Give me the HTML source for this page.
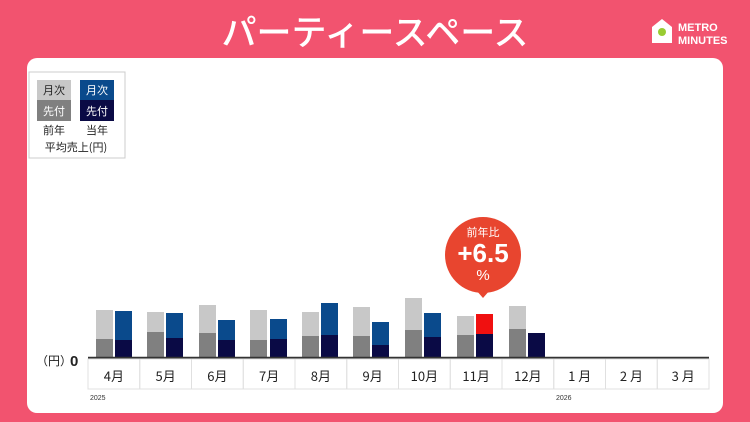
<!DOCTYPE html>
<html><head><meta charset="utf-8"><style>
body{margin:0;width:750px;height:422px;background:#f2536f;overflow:hidden;font-family:"Liberation Sans","Noto Sans CJK JP",sans-serif;}
</style></head><body>
<svg width="750" height="422" xmlns="http://www.w3.org/2000/svg" style="position:absolute;left:0;top:0">
<text x="375" y="45" text-anchor="middle" fill="#fff" font-size="35" font-weight="500" font-family="Noto Sans CJK JP,sans-serif">パーティースペース</text>
<g transform="translate(652,19)"><path d="M0 8 L10 0 L20 8 L20 24 L0 24Z" fill="#fff"/><circle cx="10" cy="13" r="4" fill="#9c3"/></g>
<text x="678" y="31" fill="#fff" font-size="11" font-weight="bold">METRO</text>
<text x="678" y="44" fill="#fff" font-size="11" font-weight="bold">MINUTES</text>
<rect x="27" y="58" width="696" height="355" rx="10" fill="#fff"/>
<rect x="29" y="72" width="96" height="86" fill="#fff" stroke="#ccc"/>
<rect x="37" y="80" width="34" height="20" fill="#c8c8c8"/><rect x="37" y="100" width="34" height="21" fill="#808080"/>
<rect x="80" y="80" width="34" height="20" fill="#0a4a8c"/><rect x="80" y="100" width="34" height="21" fill="#0a0a45"/>
<g font-size="11" font-family="Noto Sans CJK JP,sans-serif" text-anchor="middle">
<text x="54" y="94" fill="#222">月次</text><text x="54" y="115" fill="#fff">先付</text>
<text x="97" y="94" fill="#fff">月次</text><text x="97" y="115" fill="#fff">先付</text>
<text x="54" y="134" fill="#222">前年</text><text x="97" y="134" fill="#222">当年</text>
<text x="76" y="151" fill="#222">平均売上(円)</text></g>
<g id="bars"></g>
<line x1="88" y1="358" x2="709" y2="358" stroke="#333" stroke-width="2.5"/>
<g id="cells" stroke="#e0e0e0" fill="none"></g>
<text x="36" y="365" font-size="12" fill="#222" font-family="Noto Sans CJK JP,sans-serif">（円）</text>
<text x="70" y="366" font-size="15" font-weight="bold" fill="#222">0</text>
<text x="90" y="400" font-size="7" fill="#333">2025</text>
<text x="556" y="400" font-size="7" fill="#333">2026</text>
<circle cx="483" cy="255" r="38" fill="#e8452f"/>
<path d="M476 290 L490 290 L483 298Z" fill="#e8452f"/>
<text x="483" y="236" text-anchor="middle" fill="#fff" font-size="11" font-family="Noto Sans CJK JP,sans-serif">前年比</text>
<text x="483" y="262" text-anchor="middle" fill="#fff" font-size="26" font-weight="bold">+6.5</text>
<text x="483" y="280" text-anchor="middle" fill="#fff" font-size="15">%</text>
</svg>
<script>
var ns="http://www.w3.org/2000/svg";
function r(g,x,y,w,h,f){var e=document.createElementNS(ns,"rect");e.setAttribute("x",x);e.setAttribute("y",y);e.setAttribute("width",w);e.setAttribute("height",h);e.setAttribute("fill",f);g.appendChild(e);}
var b=document.getElementById("bars");
var d=[[96,310,339,115,311,340],[147,312,332,166,313,338],[199,305,333,218,320,340],[250,310,340,270,319,339],[302,312,336,321,303,335],[353,307,336,372,322,345],[405,298,330,424,313,337],[457,316,335,476,314,334],[509,306,329,528,333,333]];
d.forEach(function(a,i){r(b,a[0],a[1],17,a[2]-a[1],"#c8c8c8");r(b,a[0],a[2],17,357-a[2],"#808080");
r(b,a[3],a[4],17,a[5]-a[4],i==7?"#f01010":"#0a4a8c");r(b,a[3],a[5],17,357-a[5],"#0a0a45");});
var c=document.getElementById("cells");var L=["4月","5月","6月","7月","8月","9月","10月","11月","12月","1 月","2 月","3 月"];
for(var i=0;i<12;i++){var x=88+i*51.75;r(c,x,359,51.75,30,"none");c.lastChild.setAttribute("stroke","#e0e0e0");
var t=document.createElementNS(ns,"text");t.setAttribute("x",x+25.9);t.setAttribute("y",381);t.setAttribute("text-anchor","middle");t.setAttribute("font-size","13");t.setAttribute("fill","#222");t.setAttribute("stroke","none");t.setAttribute("font-family","Noto Sans CJK JP,sans-serif");t.textContent=L[i];c.appendChild(t);}
</script>
</body></html>
